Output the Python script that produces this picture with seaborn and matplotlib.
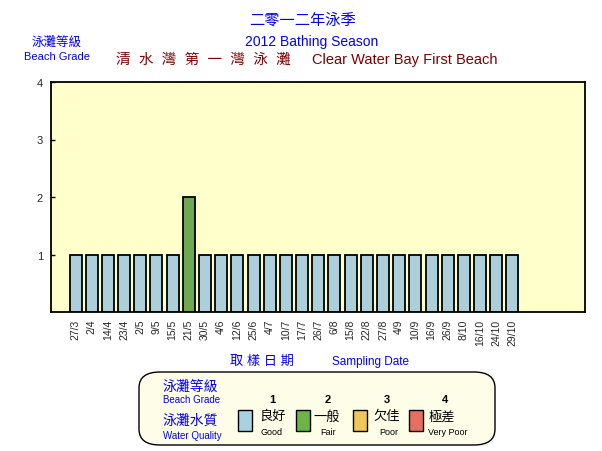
import numpy as np
import pandas as pd
import matplotlib.pyplot as plt
import seaborn as sns
from matplotlib.patches import FancyBboxPatch, Rectangle

# sampling dates and beach grade for each date
dates = ['27/3', '2/4', '14/4', '23/4', '2/5', '9/5', '15/5', '21/5', '30/5', '4/6',
         '12/6', '25/6', '4/7', '10/7', '17/7', '26/7', '6/8', '15/8', '22/8', '27/8',
         '4/9', '10/9', '16/9', '26/9', '8/10', '16/10', '24/10', '29/10']
grades = [1, 1, 1, 1, 1, 1, 1, 2, 1, 1,
          1, 1, 1, 1, 1, 1, 1, 1, 1, 1,
          1, 1, 1, 1, 1, 1, 1, 1]
grade_names = ['Good', 'Fair', 'Poor', 'Very Poor']
grade_zh = ['良好', '一般', '欠佳', '極差']
grade_colors = ['#a6d2e2', '#6ab545', '#f0c65c', '#e6705f']

# one empty slot before the first date, four empty slots after the last
n_slots = len(dates) + 5
df = pd.DataFrame({'slot': np.arange(1, len(dates) + 1),
                   'grade': grades,
                   'quality': [grade_names[g - 1] for g in grades]})

sns.set_style('white')
fam = ['Liberation Sans', 'Noto Sans CJK TC', 'DejaVu Sans']
plt.rcParams['font.family'] = fam

fig = plt.figure(figsize=(6.02, 4.52), dpi=100)
fig.patch.set_facecolor('white')
W, H = 602, 452
ax = fig.add_axes([51.3 / W, 1 - 313 / H, 534 / W, 230 / H])
ax.set_facecolor('#ffffcc')

sns.barplot(data=df, x='slot', y='grade', hue='quality', order=list(range(n_slots)),
            palette=dict(zip(grade_names, grade_colors)), dodge=False, width=0.74,
            edgecolor='black', linewidth=1.3, legend=False, ax=ax)

ax.set_xlim(-0.5, n_slots - 0.5)
ax.set_ylim(0, 4)
ax.set_yticks([1, 2, 3, 4])
ax.set_yticklabels(['1', '2', '3', '4'], fontsize=8)
ax.set_xticks(range(1, len(dates) + 1))
ax.set_xticklabels(dates, rotation=90, fontsize=7.5)
ax.set_xticks(np.arange(0.5, n_slots - 1, 1), minor=True)
ax.tick_params(axis='x', which='major', length=0, pad=5)
ax.tick_params(axis='x', which='minor', direction='in', length=3, width=1, color='black')
ax.tick_params(axis='y', direction='in', length=3, width=1, color='black', left=True, pad=6)
ax.set_xlabel('')
ax.set_ylabel('')
for s in ax.spines.values():
    s.set_color('black')
    s.set_linewidth(1.3)


def ftext(x, y, s, **kw):
    fig.text(x / W, 1 - y / H, s, family=fam, **kw)


# titles
ftext(303, 20, '二零一二年泳季', color='#0000ff', fontsize=11, ha='center', va='center')
ftext(312, 42, '2012 Bathing Season', color='#0000ff', fontsize=10, ha='center', va='center')
ftext(116, 60, '清  水  灣  第  一  灣  泳  灘', color='#800000', fontsize=10.5, ha='left', va='center')
ftext(497, 60, 'Clear Water Bay First Beach', color='#800000', fontsize=10.5, ha='right', va='center')
ftext(57, 42, '泳灘等級', color='#0000ff', fontsize=9, ha='center', va='center')
ftext(57, 57, 'Beach Grade', color='#0000ff', fontsize=8, ha='center', va='center')

# x axis title
ftext(262, 362, '取 樣 日 期', color='#0000ff', fontsize=9.5, ha='center', va='center')
ftext(370, 362, 'Sampling Date', color='#0000ff', fontsize=8.5, ha='center', va='center')

# legend box
box = FancyBboxPatch((139 / W, 1 - 446 / H), 356 / W, 73 / H,
                     boxstyle='round,pad=0,rounding_size=0.035',
                     transform=fig.transFigure, facecolor='#fdfde8',
                     edgecolor='black', linewidth=1)
fig.patches.append(box)
ftext(190, 387, '泳灘等級', color='#0000ff', fontsize=10, ha='center', va='center')
ftext(192, 400, 'Beach Grade', color='#0000ff', fontsize=7, ha='center', va='center')
ftext(190, 421, '泳灘水質', color='#0000ff', fontsize=10, ha='center', va='center')
ftext(192, 436, 'Water Quality', color='#0000ff', fontsize=7, ha='center', va='center')

sw_x = [238, 296, 353, 409]
num_x = [272, 328, 387, 445]
zh_x = [273, 327, 387, 442]
en_x = [272, 328, 389, 448]
for i in range(4):
    fig.patches.append(Rectangle((sw_x[i] / W, 1 - 432 / H), 14 / W, 21 / H,
                                 transform=fig.transFigure, facecolor=grade_colors[i],
                                 edgecolor='black', linewidth=1))
    ftext(num_x[i], 400, str(i + 1), color='black', fontsize=8, fontweight='bold',
          ha='center', va='center')
    ftext(zh_x[i], 417, grade_zh[i], color='black', fontsize=9.5, ha='center', va='center')
    ftext(en_x[i], 433, grade_names[i], color='black', fontsize=6.5, ha='center', va='center')

fig.savefig('out.png', dpi=100)
